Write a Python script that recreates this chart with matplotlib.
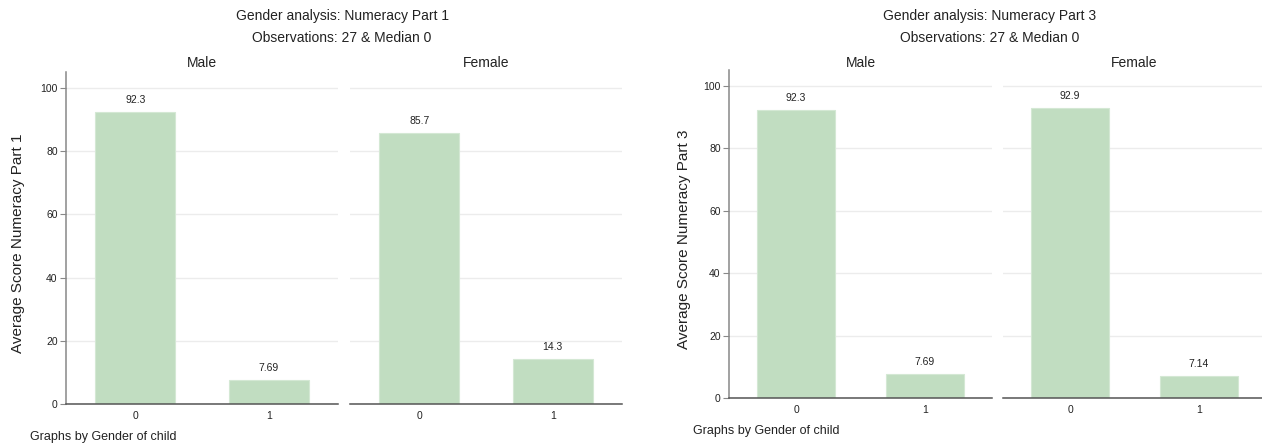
import matplotlib
matplotlib.use("Agg")
import matplotlib.pyplot as plt

# ---------------- data ----------------
categories = ["0", "1"]
panel_names = ["Male", "Female"]

part1_male = [92.3, 7.69]
part1_female = [85.7, 14.3]
part3_male = [92.3, 7.69]
part3_female = [92.9, 7.14]

title1_lines = ["Gender analysis: Numeracy Part 1", "Observations: 27 & Median 0"]
title3_lines = ["Gender analysis: Numeracy Part 3", "Observations: 27 & Median 0"]
ylabel1 = "Average Score Numeracy Part 1"
ylabel3 = "Average Score Numeracy Part 3"
note_text = "Graphs by Gender of child"
y_ticks = [0, 20, 40, 60, 80, 100]

# ---------------- style ----------------
W, H, DPI = 1262, 446, 100
plt.rcParams['font.family'] = ['Liberation Sans', 'DejaVu Sans']
BAR_COLOR = "#c1ddc1"
BAR_EDGE = "#d4e8d4"
GRID_COLOR = "#ececec"
TEXT_COLOR = "#222222"

fig = plt.figure(figsize=(W / DPI, H / DPI), dpi=DPI)
fig.patch.set_facecolor("white")


def px_axes(x0, x1, ytop, ybot):
    return fig.add_axes([x0 / W, 1 - ybot / H, (x1 - x0) / W, (ybot - ytop) / H])


def draw_chart(title_lines, ylabel, series, geom):
    panels_px, ytop, ybot, title_x, ylabel_x, note_xy = geom
    for i, (name, vals, (x0, x1)) in enumerate(zip(panel_names, series, panels_px)):
        ax = px_axes(x0, x1, ytop, ybot)
        xs = list(range(len(categories)))
        ax.bar(xs, vals, width=0.6, color=BAR_COLOR, edgecolor=BAR_EDGE,
               linewidth=0.8, zorder=2)
        for x, v in zip(xs, vals):
            ax.annotate(f"{v:.3g}", (x, v), xytext=(0, 5), textcoords="offset points",
                        ha="center", va="bottom", fontsize=7.5, color=TEXT_COLOR)
        ax.set_xlim(-0.52, 1.52)
        ax.set_ylim(0, 105)
        ax.set_yticks(y_ticks)
        ax.yaxis.grid(True, color=GRID_COLOR, linewidth=1.0, zorder=0)
        ax.set_axisbelow(True)
        ax.set_xticks(xs)
        ax.set_xticklabels(categories)
        ax.tick_params(axis="x", length=0, pad=5, labelsize=7.5, colors=TEXT_COLOR)
        for s in ("top", "right"):
            ax.spines[s].set_visible(False)
        ax.spines["bottom"].set_color("#555555")
        ax.spines["bottom"].set_linewidth(1.1)
        if i == 0:
            ax.spines["left"].set_color("#888888")
            ax.spines["left"].set_linewidth(1.1)
            ax.tick_params(axis="y", length=4, width=0.8, color="#888888",
                           pad=2, labelsize=7.5, labelcolor=TEXT_COLOR)
        else:
            ax.spines["left"].set_visible(False)
            ax.tick_params(axis="y", length=0, labelleft=False)
        fig.text(((x0 + x1) / 2) / W, 1 - 63 / H, name, ha="center", va="center",
                 fontsize=10, color=TEXT_COLOR)
    fig.text(title_x / W, 1 - 16 / H, title_lines[0], ha="center", va="center",
             fontsize=10, color=TEXT_COLOR)
    fig.text(title_x / W, 1 - 38 / H, title_lines[1], ha="center", va="center",
             fontsize=10, color=TEXT_COLOR)
    fig.text(ylabel_x / W, 1 - ((ytop + ybot) / 2 + 5) / H, ylabel, rotation=90,
             ha="center", va="center", fontsize=11, color=TEXT_COLOR)
    fig.text(note_xy[0] / W, 1 - note_xy[1] / H, note_text, ha="left", va="center",
             fontsize=9, color=TEXT_COLOR)


draw_chart(title1_lines, ylabel1, [part1_male, part1_female],
           ([(66, 338), (350, 622)], 72.2, 404, 342, 18, (30, 437)))
draw_chart(title3_lines, ylabel3, [part3_male, part3_female],
           ([(729, 992), (1003, 1266)], 70.4, 398, 990, 684, (693, 431)))

fig.savefig("out.png", dpi=DPI, facecolor="white")
